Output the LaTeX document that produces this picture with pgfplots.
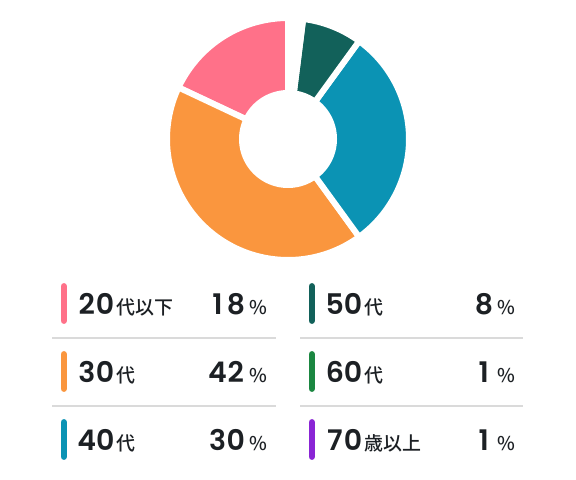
\documentclass[border=0pt]{standalone}
\usepackage{pgfplots}
\pgfplotsset{compat=1.18}
\usepackage{pgfplotstable}
\usepackage{fontspec}
\setmainfont{Noto Sans CJK JP}
\newfontfamily\cjk{Noto Sans CJK JP}[UprightFont=* Medium]
\newfontfamily\numfont{Poppins}[UprightFont=* SemiBold]
\definecolor{pinkc}{HTML}{FF7189}
\definecolor{orangec}{HTML}{FA963E}
\definecolor{bluec}{HTML}{0B93B4}
\definecolor{dgreenc}{HTML}{12615A}
\definecolor{greenc}{HTML}{1B8741}
\definecolor{purplec}{HTML}{8A25D5}
\definecolor{txt}{HTML}{1C2024}
\definecolor{sepc}{HTML}{DADADA}

\pgfplotstableread{
group pct
u20 18
a30 42
a40 30
a50 8
a60 1
o70 1
}\agedata

% tabular digits
\def\tnum#1{\tnumloop#1\relax}
\def\tnumloop#1{\ifx#1\relax\else\makebox[18.3bp][c]{#1}\expandafter\tnumloop\fi}

\newcommand{\slice}[3]{%
  \addplot[fill=#3, draw=white, line width=6bp, domain=#1:#2, samples=90, variable=\t]
    ({121*cos(\t)},{121*sin(\t)}) -- (axis cs:0,0) -- cycle;}

\newcommand{\legrow}[6]{%
  \pgfmathsetmacro\yb{314.5+68*#2}%
  \pgfmathsetmacro\yc{\yb-11}%
  \draw[#3, line width=6.5bp, line cap=round] (#1+63.8,\yc-17.2) -- (#1+63.8,\yc+17.2);
  \node[anchor=base west, inner sep=0pt, text=txt] at (#1+77.5,\yb)
    {{\numfont\fontsize{28.5}{28.5}\selectfont\tnum{#4}}\hspace{2bp}{\cjk\fontsize{19}{19}\selectfont #5}};
  \node[anchor=base east, inner sep=0pt, text=txt] at (#1+267,\yb)
    {{\numfont\fontsize{28.5}{28.5}\selectfont\expandafter\tnum\expandafter{#6}}\hspace{4bp}{\cjk\fontsize{19}{19}\selectfont\%}};
}

\begin{document}
\begin{tikzpicture}[x=1bp, y=-1bp]
\fill[white] (0,0) rectangle (576,480);
\pgfplotstablegetelem{0}{pct}\of\agedata \pgfmathtruncatemacro\pA{\pgfplotsretval}
\pgfplotstablegetelem{1}{pct}\of\agedata \pgfmathtruncatemacro\pB{\pgfplotsretval}
\pgfplotstablegetelem{2}{pct}\of\agedata \pgfmathtruncatemacro\pC{\pgfplotsretval}
\pgfplotstablegetelem{3}{pct}\of\agedata \pgfmathtruncatemacro\pD{\pgfplotsretval}
\pgfplotstablegetelem{4}{pct}\of\agedata \pgfmathtruncatemacro\pE{\pgfplotsretval}
\pgfplotstablegetelem{5}{pct}\of\agedata \pgfmathtruncatemacro\pF{\pgfplotsretval}
\pgfmathsetmacro\sA{90}
\pgfmathsetmacro\sB{\sA+3.6*\pA}
\pgfmathsetmacro\sC{\sB+3.6*\pB}
\pgfmathsetmacro\sD{\sC+3.6*\pC}
\pgfmathsetmacro\sE{\sD+3.6*\pD}
\pgfmathsetmacro\sF{\sE+3.6*\pE}
\pgfmathsetmacro\sG{\sF+3.6*\pF}
\begin{axis}[
  at={(288bp,-139bp)}, anchor=center,
  x=1bp, y=1bp,
  xmin=-130, xmax=130, ymin=-130, ymax=130,
  hide axis, clip=false,
]
\slice{\sA}{\sB}{pinkc}
\slice{\sB}{\sC}{orangec}
\slice{\sC}{\sD}{bluec}
\slice{\sD}{\sE}{dgreenc}
\slice{\sE}{\sF}{white}
\slice{\sF}{\sG}{white}
\addplot[fill=white, draw=none, domain=0:360, samples=120, variable=\t]
  ({49*cos(\t)},{49*sin(\t)}) -- cycle;
\end{axis}
\draw[sepc, line width=2bp] (52,338) -- (276,338);
\draw[sepc, line width=2bp] (52,406) -- (276,406);
\draw[sepc, line width=2bp] (300,338) -- (523,338);
\draw[sepc, line width=2bp] (300,406) -- (523,406);
\legrow{0}{0}{pinkc}{20}{代以下}{\pA}
\legrow{0}{1}{orangec}{30}{代}{\pB}
\legrow{0}{2}{bluec}{40}{代}{\pC}
\legrow{248}{0}{dgreenc}{50}{代}{\pD}
\legrow{248}{1}{greenc}{60}{代}{\pE}
\legrow{248}{2}{purplec}{70}{歳以上}{\pF}
\end{tikzpicture}
\end{document}
